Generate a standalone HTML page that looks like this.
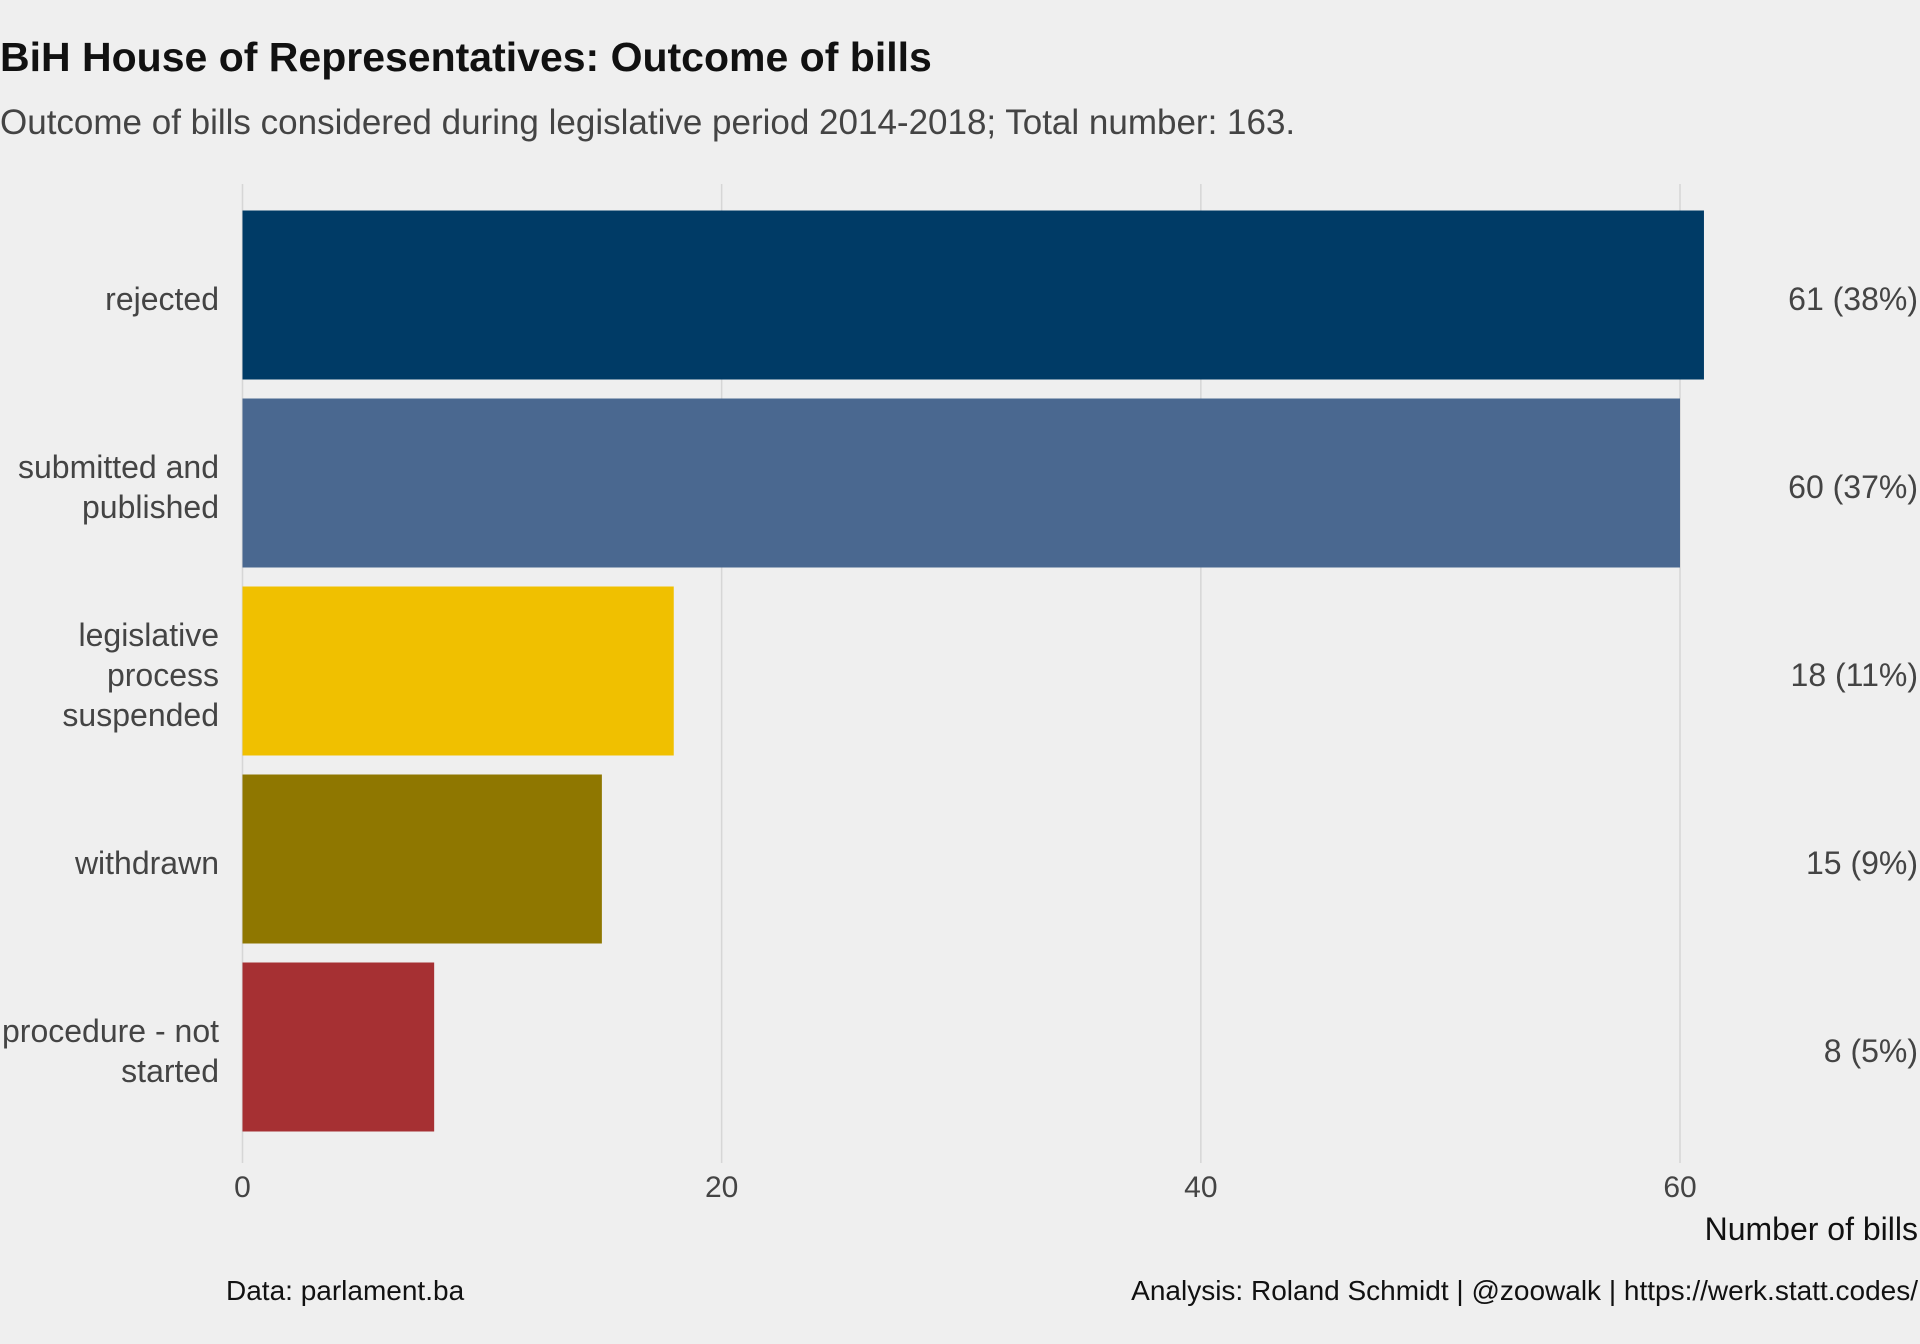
<!DOCTYPE html>
<html><head><meta charset="utf-8"><style>
html,body{margin:0;padding:0;background:#efefef;}
svg{display:block;font-family:"Liberation Sans",sans-serif;}
</style></head><body>
<svg id="chart" width="1920" height="1344" viewBox="0 0 1920 1344" xmlns="http://www.w3.org/2000/svg">
<rect width="1920" height="1344" fill="#efefef"/>
<text x="0" y="71" font-size="41" font-weight="bold" fill="#111">BiH House of Representatives: Outcome of bills</text>
<text x="0" y="134" font-size="35" fill="#444">Outcome of bills considered during legislative period 2014-2018; Total number: 163.</text>
<g id="grid"></g>
<g id="bars"></g>
<g id="labels"></g>
<text x="1918" y="1240" font-size="32" fill="#111" text-anchor="end">Number of bills</text>
<text x="226" y="1300" font-size="28" fill="#111">Data: parlament.ba</text>
<text x="1918" y="1300" font-size="28" fill="#111" text-anchor="end">Analysis: Roland Schmidt | @zoowalk | https://werk.statt.codes/</text>
</svg>
<script>
const categories = [["rejected"],["submitted and","published"],["legislative","process","suspended"],["withdrawn"],["procedure - not","started"]];
const values = [61, 60, 18, 15, 8];
const valueLabels = ["61 (38%)","60 (37%)","18 (11%)","15 (9%)","8 (5%)"];
const colors = ["#003b66","#4a6890","#f0c000","#8f7700","#a63033"];
const ticks = [0, 20, 40, 60];

const NS = "http://www.w3.org/2000/svg";
const x0 = 242.5, perUnit = (1680 - 242.5) / 60;
const xs = v => x0 + v * perUnit;
const pitch = 188, firstCenter = 295, barH = 169;
const yc = i => firstCenter + i * pitch;
function mk(tag, attrs, parent){const e=document.createElementNS(NS,tag);for(const k in attrs)e.setAttribute(k,attrs[k]);parent.appendChild(e);return e;}
const grid=document.getElementById('grid'), bars=document.getElementById('bars'), labels=document.getElementById('labels');
ticks.forEach(t=>{
  const l=mk('line',{x1:xs(t),x2:xs(t),y1:184,y2:1163,stroke:'#d6d6d6','stroke-width':1.5},grid);
  
  
  const tx=mk('text',{x:xs(t),y:1197,'font-size':30,fill:'#444','text-anchor':'middle'},grid);
  tx.textContent=t;
  
  
});
values.forEach((v,i)=>{
  const r=mk('rect',{x:xs(0),y:yc(i)-barH/2,width:xs(v)-xs(0),height:barH,fill:colors[i]},bars);
  
  
  const lines=categories[i], lh=40, start=yc(i)-(lines.length-1)*lh/2+15;
  const t=mk('text',{'font-size':32,fill:'#444','text-anchor':'end'},labels);
  
  
  lines.forEach((s,j)=>{const ts=mk('tspan',{x:219,y:start+j*lh},t);ts.textContent=s;});
  const vl=mk('text',{x:1918,y:yc(i)+15,'font-size':32,fill:'#444','text-anchor':'end'},labels);
  vl.textContent=valueLabels[i];
  
  
});
</script>
</body></html>
